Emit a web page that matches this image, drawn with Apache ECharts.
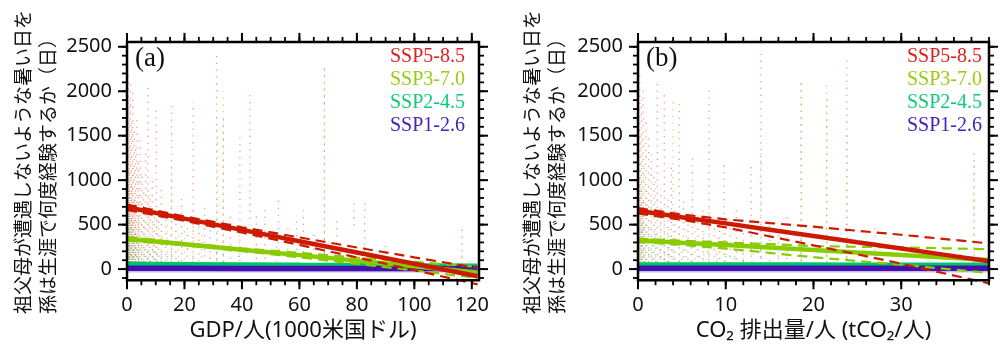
<!DOCTYPE html>
<html>
<head>
<meta charset="utf-8">
<script src="https://cdn.jsdelivr.net/npm/echarts@6/dist/echarts.min.js"></script>
<style>
  html, body { margin: 0; padding: 0; background: #fff; }
  #chart { width: 1000px; height: 347px; }
</style>
</head>
<body>
<div id="chart"></div>
<script>
// scenarios + texts
const scenarios = ['SSP5-8.5', 'SSP3-7.0', 'SSP2-4.5', 'SSP1-2.6'];
const yTitle = ['祖父母が遭遇しないような暑い日を', '孫は生涯で何度経験するか（日）'];
const gdpName = 'GDP/人(1000米国ドル)';
const co2Name = 'CO₂ 排出量/人 (tCO₂/人)';

// ticks
const yTicks = [0, 500, 1000, 1500, 2000, 2500];
const yMinor = [-100, 0, 100, 200, 300, 400, 500, 600, 700, 800, 900, 1000, 1100, 1200, 1300,
  1400, 1500, 1600, 1700, 1800, 1900, 2000, 2100, 2200, 2300, 2400, 2500];
const gdpTicks = [0, 20, 40, 60, 80, 100, 120];
const gdpMinor = [0, 5, 10, 15, 20, 25, 30, 35, 40, 45, 50, 55, 60, 65, 70, 75, 80, 85, 90, 95,
  100, 105, 110, 115, 120];
const co2Ticks = [0, 10, 20, 30];
const co2Minor = [0, 2, 4, 6, 8, 10, 12, 14, 16, 18, 20, 22, 24, 26, 28, 30, 32, 34, 36, 38, 40];

// (a) regression lines vs GDP
const gdpFitX = [0, 20, 40, 60, 80, 100, 122];
const gdpSsp585 = [695, 568, 441, 314, 187, 60, -80];
const gdpSsp585Hi = [725, 593, 471, 356, 243, 132, 12];
const gdpSsp585Lo = [665, 543, 411, 272, 131, -12, -172];
const gdpSsp370 = [342, 280, 218, 157, 95, 33, -38];
const gdpSsp370Hi = [362, 292, 233, 182, 130, 81, 25];
const gdpSsp370Lo = [322, 268, 203, 132, 60, -15, -100];
const gdpSsp245 = [57, 53, 49, 45, 42, 38, 34];
const gdpSsp126 = [9, 9, 8, 8, 7, 7, 6];
const gdpSsp126Lo = [-25, -25, -25, -25, -25, -25, -25];

// (b) regression lines vs CO2
const co2FitX = [0, 5, 10, 15, 20, 25, 30, 35, 40];
const co2Ssp585 = [655, 584, 514, 443, 372, 301, 231, 160, 89];
const co2Ssp585Hi = [685, 614, 559, 518, 477, 431, 386, 338, 289];
const co2Ssp585Lo = [625, 554, 469, 368, 267, 166, 61, -50, -160];
const co2Ssp370 = [325, 297, 270, 242, 214, 186, 159, 131, 103];
const co2Ssp370Hi = [343, 319, 300, 280, 259, 251, 244, 234, 224];
const co2Ssp370Lo = [307, 272, 230, 182, 134, 91, 49, 3, -44];
const co2Ssp245 = [50, 49, 49, 48, 48, 47, 47, 46, 46];
const co2Ssp126 = [10, 10, 10, 10, 10, 10, 10, 10, 10];
const co2Ssp126Lo = [-25, -25, -25, -25, -25, -25, -25, -25, -25];

// country scatter, read as vertical runs of dots: [x, lowest, highest]
const gdpRed = [
  [0.2, 0, 2500], [0.2, 0, 1500], [0.5, 0, 2200], [0.5, 0, 1100], [0.8, 0, 1900], [0.8, 0, 900],
  [1.2, 0, 2100], [1.2, 0, 800], [1.6, 0, 1700], [1.6, 0, 1000], [2.0, 0, 2000], [2.0, 0, 700],
  [2.5, 0, 1600], [2.5, 0, 800], [3.0, 0, 1400], [3.0, 0, 600], [3.5, 0, 1700], [4.0, 0, 1200],
  [4.0, 0, 600], [4.6, 0, 1500], [5.2, 0, 1100], [5.8, 0, 900], [6.5, 0, 1300], [7.3, 0, 2100],
  [8.0, 0, 800], [8.8, 0, 1000], [9.5, 0, 700], [10.2, 0, 1800], [11.0, 0, 600], [12.0, 0, 900],
  [13.5, 0, 700], [15.5, 0, 1880], [17.0, 0, 600], [19.0, 0, 800], [21, 0, 500], [23, 0, 1880],
  [25, 0, 600], [27, 0, 700], [29, 0, 500], [31.2, 0, 2440], [33.5, 0, 1700], [36, 0, 600],
  [39.3, 0, 1480], [42.8, 500, 1970], [45, 0, 600], [48, 100, 700], [52.7, 150, 800],
  [56, 100, 500], [59.1, 200, 600], [61.4, 120, 700], [65, 100, 400], [68.7, 0, 2290],
  [73, 300, 600], [79, 450, 800], [82.7, 100, 800], [90, 100, 300], [116.6, 0, 500]
];
const gdpYellow = [
  [0.3, 0, 1800], [0.3, 0, 800], [1, 0, 1400], [1, 0, 600], [2, 0, 1200], [2, 0, 500],
  [3, 0, 900], [4, 0, 1000], [5, 0, 700], [6, 0, 600], [7.5, 0, 900], [9, 0, 500],
  [10.5, 0, 600], [12, 0, 400], [14, 0, 500], [15.5, 0, 1100], [18, 0, 400], [20, 0, 500],
  [23, 0, 600], [26, 0, 400], [31.5, 0, 1600], [33.5, 0, 2000], [39, 0, 500], [45, 0, 300],
  [52, 0, 400], [60, 0, 300], [68.7, 0, 2300], [82.7, 0, 300], [116.6, 0, 200]
];
const gdpGreen = [
  [0.2, 0, 1100], [0.5, 0, 700], [1, 0, 600], [1.5, 0, 500], [2, 0, 450], [2.5, 0, 400],
  [3, 0, 400], [3.5, 0, 350], [4, 0, 300], [5, 0, 300], [6, 0, 250], [7, 0, 300], [8, 0, 200],
  [9, 0, 250], [10, 0, 200], [12, 0, 200], [14, 0, 150], [15.5, 0, 300], [18, 0, 150],
  [23, 0, 150], [31.2, 0, 200], [33.5, 0, 200], [39, 0, 150], [68.7, 0, 300]
];
const co2Red = [
  [0.05, 0, 2500], [0.05, 0, 1400], [0.2, 0, 2200], [0.2, 0, 1000], [0.4, 0, 1900], [0.4, 0, 900],
  [0.6, 0, 2000], [0.6, 0, 800], [0.9, 0, 1700], [1.2, 0, 1500], [1.5, 0, 1300], [1.8, 0, 1100],
  [2.2, 0, 2140], [2.6, 0, 900], [3.0, 0, 2000], [3.4, 0, 800], [3.8, 0, 1200], [4.2, 0, 700],
  [4.7, 0, 1870], [5.2, 0, 800], [5.7, 0, 600], [6.2, 0, 1300], [6.8, 0, 600], [7.4, 0, 700],
  [8.1, 0, 2060], [8.7, 0, 500], [9.3, 0, 600], [9.8, 0, 1200], [10.5, 0, 500], [11.2, 0, 700],
  [12.0, 0, 600], [12.9, 0, 1150], [14, 0, 2420], [15, 0, 500], [16, 0, 400], [17, 0, 600],
  [18.6, 0, 2120], [21.5, 0, 1980], [23.8, 0, 2400], [27, 200, 500], [38.3, 0, 1350]
];
const co2Yellow = [
  [0.05, 0, 1800], [0.05, 0, 700], [0.3, 0, 1500], [0.3, 0, 600], [0.7, 0, 1200], [1, 0, 900],
  [1.5, 0, 800], [2, 0, 1000], [2.5, 0, 600], [3, 0, 700], [3.5, 0, 500], [4, 0, 1900],
  [4.7, 0, 600], [5.5, 0, 500], [6.5, 0, 500], [7.5, 0, 400], [8.1, 0, 700], [9, 0, 400],
  [10, 0, 400], [11, 0, 300], [12, 0, 300], [13, 0, 300], [14, 0, 1300], [16, 0, 250],
  [18.6, 0, 2100], [21.5, 0, 2100], [23.8, 0, 1500], [38.3, 0, 1200]
];
const co2Green = [
  [0.05, 0, 1000], [0.2, 0, 700], [0.5, 0, 600], [0.8, 0, 500], [1.2, 0, 450], [1.6, 0, 400],
  [2.0, 0, 400], [2.5, 0, 350], [3, 0, 350], [3.5, 0, 300], [4, 0, 300], [5, 0, 250],
  [6, 0, 250], [7, 0, 200], [8, 0, 250], [9, 0, 200], [10, 0, 200], [11, 0, 150], [12, 0, 150],
  [14, 0, 300], [18.6, 0, 400], [21.5, 0, 300], [23.8, 0, 200], [38.3, 0, 200]
];

const sans = "'Noto Sans', 'Noto Sans CJK JP', sans-serif";
const serif = "'Liberation Serif', 'DejaVu Serif', serif";
const lineColors = ['#cc1a00', '#88cc00', '#00c46a', '#4410b0'];
const textColors = ['#dd2020', '#99cc11', '#11cc77', '#4422bb'];
const dotColors = ['rgba(230,70,70,0.55)', 'rgba(160,205,40,0.6)', 'rgba(30,200,120,0.6)'];

// frame of each panel (the data range); the grid is padded so the outward ticks sit inside it
const Y_MIN = -125, Y_MAX = 2555;
const FRAME_TOP = 42, FRAME_H = 241, PAD = 10;
const panels = [
  { left: 127, width: 352, xMax: 122.5, labels: gdpTicks, minor: gdpMinor, name: gdpName },
  { left: 638, width: 351, xMax: 40, labels: co2Ticks, minor: co2Minor, name: co2Name }
];
const yPad = PAD * (Y_MAX - Y_MIN) / FRAME_H;

const zip = (xs, ys) => xs.map((x, i) => [x, ys[i]]);
const plain = (v) => String(v);

function fitLine(name, xs, ys, idx, color, width, dashed) {
  return {
    name, type: 'line', xAxisIndex: idx, yAxisIndex: idx,
    data: zip(xs, ys), showSymbol: false, silent: true, clip: true,
    lineStyle: { color, width, type: dashed ? [10, 6] : 'solid', cap: 'butt' }
  };
}

function frameLine(idx, xMax) {
  return {
    name: 'frame', type: 'line', xAxisIndex: idx, yAxisIndex: idx, z: 6,
    data: [[0, Y_MIN], [xMax, Y_MIN], [xMax, Y_MAX], [0, Y_MAX], [0, Y_MIN]],
    showSymbol: false, silent: true, clip: false,
    lineStyle: { color: '#000', width: 2.5, join: 'miter', cap: 'square' }
  };
}

function streaks(name, data, idx, color) {
  return {
    name, type: 'custom', xAxisIndex: idx, yAxisIndex: idx, silent: true, data,
    renderItem(params, api) {
      const a = api.coord([api.value(0), api.value(1)]);
      const b = api.coord([api.value(0), api.value(2)]);
      return {
        type: 'line',
        shape: { x1: a[0], y1: a[1], x2: b[0], y2: b[1] },
        style: { stroke: color, lineWidth: 1.3, lineDash: [1.3, 5.5], lineDashOffset: (params.dataIndex * 2.3) % 7 }
      };
    }
  };
}

// one side of outward ticks, one line per tick value
function tickSide(side, values, idx, xMax, len, width) {
  const isX = side === 'bottom' || side === 'top';
  return {
    name: 'tick-' + side, type: 'custom', xAxisIndex: idx, yAxisIndex: idx, silent: true, clip: false, z: 7,
    data: values.map(v => (isX ? [v, 0] : [0, v])),
    renderItem(params, api) {
      let p, dx = 0, dy = 0;
      if (side === 'bottom') { p = api.coord([api.value(0), Y_MIN]); dy = len; }
      else if (side === 'top') { p = api.coord([api.value(0), Y_MAX]); dy = -len; }
      else if (side === 'left') { p = api.coord([0, api.value(1)]); dx = -len; }
      else { p = api.coord([xMax, api.value(1)]); dx = len; }
      return {
        type: 'line',
        shape: { x1: p[0], y1: p[1], x2: p[0] + dx, y2: p[1] + dy },
        style: { stroke: '#000', lineWidth: width }
      };
    }
  };
}

const xAxes = [];
const yAxes = [];
panels.forEach((p, gi) => {
  const xPad = PAD * p.xMax / p.width;
  const xBase = { type: 'value', gridIndex: gi, min: -xPad, max: p.xMax + xPad, splitLine: { show: false }, axisTick: { show: false }, axisLine: { show: false } };
  const yBase = { type: 'value', gridIndex: gi, min: Y_MIN - yPad, max: Y_MAX + yPad, splitLine: { show: false }, axisTick: { show: false }, axisLine: { show: false } };
  xAxes.push(Object.assign({}, xBase, {
    position: 'bottom',
    axisLabel: { customValues: p.labels, formatter: plain, margin: 15 - PAD, fontFamily: sans, fontSize: 20, color: '#111' },
    name: p.name, nameLocation: 'middle', nameGap: 32 - PAD,
    nameTextStyle: { fontFamily: sans, fontSize: 22, color: '#111' }
  }));
  xAxes.push(Object.assign({}, xBase, { position: 'top', axisLabel: { show: false } }));
  yAxes.push(Object.assign({}, yBase, {
    position: 'left',
    axisLabel: { customValues: yTicks, formatter: plain, margin: 15 - PAD, fontFamily: sans, fontSize: 20, color: '#111' }
  }));
  yAxes.push(Object.assign({}, yBase, { position: 'right', axisLabel: { show: false } }));
});

function panelSeries(idx, red, yellow, green, fit, p) {
  const out = [
    streaks('dots-585', red, idx, dotColors[0]),
    streaks('dots-370', yellow, idx, dotColors[1]),
    streaks('dots-245', green, idx, dotColors[2]),
    fitLine('SSP1-2.6 下限', fit.x, fit.s126Lo, idx, '#cbbbec', 2.5, false),
    fitLine(scenarios[2], fit.x, fit.s245, idx, lineColors[2], 5, false),
    fitLine(scenarios[3], fit.x, fit.s126, idx, lineColors[3], 5.5, false),
    fitLine('SSP3-7.0 上限', fit.x, fit.s370Hi, idx, lineColors[1], 2.2, true),
    fitLine('SSP3-7.0 下限', fit.x, fit.s370Lo, idx, lineColors[1], 2.2, true),
    fitLine(scenarios[1], fit.x, fit.s370, idx, lineColors[1], 4.5, false),
    fitLine('SSP5-8.5 上限', fit.x, fit.s585Hi, idx, lineColors[0], 2.2, true),
    fitLine('SSP5-8.5 下限', fit.x, fit.s585Lo, idx, lineColors[0], 2.2, true),
    fitLine(scenarios[0], fit.x, fit.s585, idx, lineColors[0], 4.5, false),
    frameLine(idx, p.xMax)
  ];
  ['bottom', 'top'].forEach(side => {
    out.push(tickSide(side, p.labels, idx, p.xMax, 9, 2), tickSide(side, p.minor, idx, p.xMax, 5, 1.8));
  });
  ['left', 'right'].forEach(side => {
    out.push(tickSide(side, yTicks, idx, p.xMax, 9, 2), tickSide(side, yMinor, idx, p.xMax, 5, 1.8));
  });
  return out;
}

const series = [].concat(
  panelSeries(0, gdpRed, gdpYellow, gdpGreen, {
    x: gdpFitX, s585: gdpSsp585, s585Hi: gdpSsp585Hi, s585Lo: gdpSsp585Lo,
    s370: gdpSsp370, s370Hi: gdpSsp370Hi, s370Lo: gdpSsp370Lo,
    s245: gdpSsp245, s126: gdpSsp126, s126Lo: gdpSsp126Lo
  }, panels[0]),
  panelSeries(2, co2Red, co2Yellow, co2Green, {
    x: co2FitX, s585: co2Ssp585, s585Hi: co2Ssp585Hi, s585Lo: co2Ssp585Lo,
    s370: co2Ssp370, s370Hi: co2Ssp370Hi, s370Lo: co2Ssp370Lo,
    s245: co2Ssp245, s126: co2Ssp126, s126Lo: co2Ssp126Lo
  }, panels[1])
);

const legendItems = scenarios.map((s, i) => ({ name: s, textStyle: { color: textColors[i] } }));
const legendBase = {
  data: legendItems, orient: 'vertical', icon: 'none', itemWidth: 0, itemHeight: 20,
  itemGap: 3, padding: 0, top: 47, selectedMode: false, align: 'left',
  textStyle: { fontFamily: serif, fontSize: 20 }
};

function yTitleText(x0) {
  return yTitle.map((t, i) => ({
    type: 'text', x: x0 + i * 25, y: 314, rotation: Math.PI / 2, silent: true,
    style: {
      text: t, fill: '#111', font: '19px ' + sans,
      align: 'left', verticalAlign: 'middle', textAlign: 'left', textVerticalAlign: 'middle'
    }
  }));
}

const chart = echarts.init(document.getElementById('chart'), null, { renderer: 'canvas' });
chart.setOption({
  backgroundColor: '#fff',
  animation: false,
  grid: panels.map(p => ({
    left: p.left - PAD, top: FRAME_TOP - PAD, width: p.width + 2 * PAD, height: FRAME_H + 2 * PAD
  })),
  title: [
    { text: '(a)', left: 135, top: 45, padding: 0, textStyle: { fontFamily: serif, fontSize: 27, fontWeight: 'normal', color: '#111' } },
    { text: '(b)', left: 646, top: 45, padding: 0, textStyle: { fontFamily: serif, fontSize: 27, fontWeight: 'normal', color: '#111' } }
  ],
  legend: [
    Object.assign({}, legendBase, { left: 385 }),
    Object.assign({}, legendBase, { left: 902 })
  ],
  graphic: yTitleText(25).concat(yTitleText(534)),
  xAxis: xAxes,
  yAxis: yAxes,
  series
});
</script>
</body>
</html>
